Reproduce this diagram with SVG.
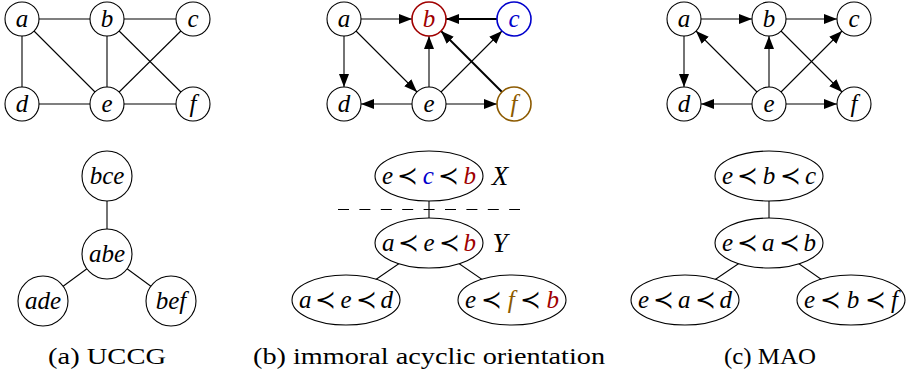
<svg xmlns="http://www.w3.org/2000/svg" width="906" height="376" viewBox="0 0 906 376">
<style>
.n{fill:#fff;stroke:#000;stroke-width:1.1}
.e{stroke:#000;stroke-width:1.1;fill:none}
.tk{stroke-width:2}
.l{font-family:'Liberation Serif','Times New Roman',Tinos,'Noto Serif','DejaVu Serif',FreeSerif,serif;font-style:italic;font-size:25px;text-anchor:middle}
.p{font-family:'DejaVu Serif','Noto Serif',serif;font-style:normal}
.cap{font-family:'Liberation Serif','Times New Roman',Tinos,'Noto Serif','DejaVu Serif',FreeSerif,serif;font-size:24px;text-anchor:middle}
.red{fill:#a00000}
.blue{fill:#0000cc}
.brown{fill:#8c5a00}
</style>
<defs>
<marker id="ar" markerUnits="userSpaceOnUse" markerWidth="14" markerHeight="11" refX="13" refY="5.5" orient="auto">
<path d="M0,0.5 L13,5.5 L0,10.5 z" fill="#000"/>
</marker>
</defs>
<g id="connectors">
<line class="e" x1="22" y1="19" x2="107" y2="19"/>
<line class="e" x1="107" y1="19" x2="193" y2="19"/>
<line class="e" x1="22" y1="19" x2="22" y2="104"/>
<line class="e" x1="22" y1="19" x2="107" y2="104"/>
<line class="e" x1="107" y1="19" x2="107" y2="104"/>
<line class="e" x1="107" y1="19" x2="193" y2="104"/>
<line class="e" x1="193" y1="19" x2="107" y2="104"/>
<line class="e" x1="22" y1="104" x2="107" y2="104"/>
<line class="e" x1="107" y1="104" x2="193" y2="104"/>
<line class="e" x1="361" y1="19" x2="412" y2="19" marker-end="url(#ar)"/>
<line class="e tk" x1="497" y1="19" x2="446" y2="19" marker-end="url(#ar)"/>
<line class="e" x1="344" y1="36" x2="344" y2="87" marker-end="url(#ar)"/>
<line class="e" x1="356" y1="31" x2="417" y2="92" marker-end="url(#ar)"/>
<line class="e" x1="429" y1="87" x2="429" y2="36" marker-end="url(#ar)"/>
<line class="e" x1="441" y1="92" x2="502" y2="31" marker-end="url(#ar)"/>
<line class="e" x1="412" y1="104" x2="361" y2="104" marker-end="url(#ar)"/>
<line class="e" x1="446" y1="104" x2="497" y2="104" marker-end="url(#ar)"/>
<line class="e tk" x1="502" y1="92" x2="441" y2="31" marker-end="url(#ar)"/>
<line class="e" x1="701" y1="19" x2="752" y2="19" marker-end="url(#ar)"/>
<line class="e" x1="786" y1="19" x2="837" y2="19" marker-end="url(#ar)"/>
<line class="e" x1="684" y1="36" x2="684" y2="87" marker-end="url(#ar)"/>
<line class="e" x1="757" y1="92" x2="696" y2="31" marker-end="url(#ar)"/>
<line class="e" x1="769" y1="87" x2="769" y2="36" marker-end="url(#ar)"/>
<line class="e" x1="781" y1="92" x2="842" y2="31" marker-end="url(#ar)"/>
<line class="e" x1="752" y1="104" x2="701" y2="104" marker-end="url(#ar)"/>
<line class="e" x1="786" y1="104" x2="837" y2="104" marker-end="url(#ar)"/>
<line class="e" x1="781" y1="31" x2="842" y2="92" marker-end="url(#ar)"/>
<line class="e" x1="107" y1="176" x2="107" y2="254"/>
<line class="e" x1="107" y1="254" x2="43" y2="301"/>
<line class="e" x1="107" y1="254" x2="171" y2="301"/>
<line class="e" x1="429" y1="176" x2="429" y2="243"/>
<line class="e" x1="429" y1="243" x2="346" y2="300"/>
<line class="e" x1="429" y1="243" x2="512" y2="300"/>
<line class="e" x1="338" y1="209.5" x2="520" y2="209.5" stroke-dasharray="11,10.4" style="stroke-width:1"/>
<line class="e" x1="769" y1="176" x2="769" y2="243"/>
<line class="e" x1="769" y1="243" x2="685" y2="300"/>
<line class="e" x1="769" y1="243" x2="851" y2="300"/>
</g>
<g id="a-a"><circle class="n" cx="22" cy="19" r="17"/><text class="l" x="22" y="27">a</text></g>
<g id="a-b"><circle class="n" cx="107" cy="19" r="17"/><text class="l" x="107" y="27">b</text></g>
<g id="a-c"><circle class="n" cx="193" cy="19" r="17"/><text class="l" x="193" y="27">c</text></g>
<g id="a-d"><circle class="n" cx="22" cy="104" r="17"/><text class="l" x="22" y="112">d</text></g>
<g id="a-e"><circle class="n" cx="107" cy="104" r="17"/><text class="l" x="107" y="112">e</text></g>
<g id="a-f"><circle class="n" cx="193" cy="104" r="17"/><text class="l" x="193" y="112">f</text></g>
<g id="b-a"><circle class="n" cx="344" cy="19" r="17"/><text class="l" x="344" y="27">a</text></g>
<g id="b-b"><circle class="n" cx="429" cy="19" r="17" style="stroke:#a00000;stroke-width:1.6"/><text class="l red" x="429" y="27">b</text></g>
<g id="b-c"><circle class="n" cx="514" cy="19" r="17" style="stroke:#0000cc;stroke-width:1.6"/><text class="l blue" x="514" y="27">c</text></g>
<g id="b-d"><circle class="n" cx="344" cy="104" r="17"/><text class="l" x="344" y="112">d</text></g>
<g id="b-e"><circle class="n" cx="429" cy="104" r="17"/><text class="l" x="429" y="112">e</text></g>
<g id="b-f"><circle class="n" cx="514" cy="104" r="17" style="stroke:#8c5a00;stroke-width:1.6"/><text class="l brown" x="514" y="112">f</text></g>
<g id="c-a"><circle class="n" cx="684" cy="19" r="17"/><text class="l" x="684" y="27">a</text></g>
<g id="c-b"><circle class="n" cx="769" cy="19" r="17"/><text class="l" x="769" y="27">b</text></g>
<g id="c-c"><circle class="n" cx="854" cy="19" r="17"/><text class="l" x="854" y="27">c</text></g>
<g id="c-d"><circle class="n" cx="684" cy="104" r="17"/><text class="l" x="684" y="112">d</text></g>
<g id="c-e"><circle class="n" cx="769" cy="104" r="17"/><text class="l" x="769" y="112">e</text></g>
<g id="c-f"><circle class="n" cx="854" cy="104" r="17"/><text class="l" x="854" y="112">f</text></g>
<g id="t-bce"><circle class="n" cx="107" cy="176" r="25"/><text class="l" x="107" y="184">bce</text></g>
<g id="t-abe"><circle class="n" cx="107" cy="254" r="25"/><text class="l" x="107" y="262">abe</text></g>
<g id="t-ade"><circle class="n" cx="43" cy="301" r="25"/><text class="l" x="43" y="309">ade</text></g>
<g id="t-bef"><circle class="n" cx="171" cy="301" r="25"/><text class="l" x="171" y="309">bef</text></g>
<g id="tb-X"><ellipse class="n" cx="429" cy="176" rx="54" ry="25"/><text class="l" x="429" y="184" textLength="94" lengthAdjust="spacing">e<tspan class="p">≺</tspan><tspan class="blue">c</tspan><tspan class="p">≺</tspan><tspan class="red">b</tspan></text><text class="l" x="500" y="185" style="font-size:27px">X</text></g>
<g id="tb-Y"><ellipse class="n" cx="429" cy="243" rx="54" ry="25"/><text class="l" x="429" y="251" textLength="94" lengthAdjust="spacing">a<tspan class="p">≺</tspan>e<tspan class="p">≺</tspan><tspan class="red">b</tspan></text><text class="l" x="500" y="252" style="font-size:27px">Y</text></g>
<g id="tb-aed"><ellipse class="n" cx="346" cy="300" rx="54" ry="25"/><text class="l" x="346" y="308" textLength="94" lengthAdjust="spacing">a<tspan class="p">≺</tspan>e<tspan class="p">≺</tspan>d</text></g>
<g id="tb-efb"><ellipse class="n" cx="512" cy="300" rx="54" ry="25"/><text class="l" x="512" y="308" textLength="94" lengthAdjust="spacing">e<tspan class="p">≺</tspan><tspan class="brown">f</tspan><tspan class="p">≺</tspan><tspan class="red">b</tspan></text></g>
<g id="tc-ebc"><ellipse class="n" cx="769" cy="176" rx="54" ry="25"/><text class="l" x="769" y="184" textLength="94" lengthAdjust="spacing">e<tspan class="p">≺</tspan>b<tspan class="p">≺</tspan>c</text></g>
<g id="tc-eab"><ellipse class="n" cx="769" cy="243" rx="54" ry="25"/><text class="l" x="769" y="251" textLength="94" lengthAdjust="spacing">e<tspan class="p">≺</tspan>a<tspan class="p">≺</tspan>b</text></g>
<g id="tc-ead"><ellipse class="n" cx="685" cy="300" rx="54" ry="25"/><text class="l" x="685" y="308" textLength="94" lengthAdjust="spacing">e<tspan class="p">≺</tspan>a<tspan class="p">≺</tspan>d</text></g>
<g id="tc-ebf"><ellipse class="n" cx="851" cy="300" rx="54" ry="25"/><text class="l" x="851" y="308" textLength="94" lengthAdjust="spacing">e<tspan class="p">≺</tspan>b<tspan class="p">≺</tspan>f</text></g>
<text class="cap" x="107" y="364" textLength="118" lengthAdjust="spacingAndGlyphs">(a) UCCG</text>
<text class="cap" x="429" y="364" textLength="352" lengthAdjust="spacingAndGlyphs">(b) immoral acyclic orientation</text>
<text class="cap" x="770" y="364" textLength="92" lengthAdjust="spacingAndGlyphs">(c) MAO</text>
</svg>
